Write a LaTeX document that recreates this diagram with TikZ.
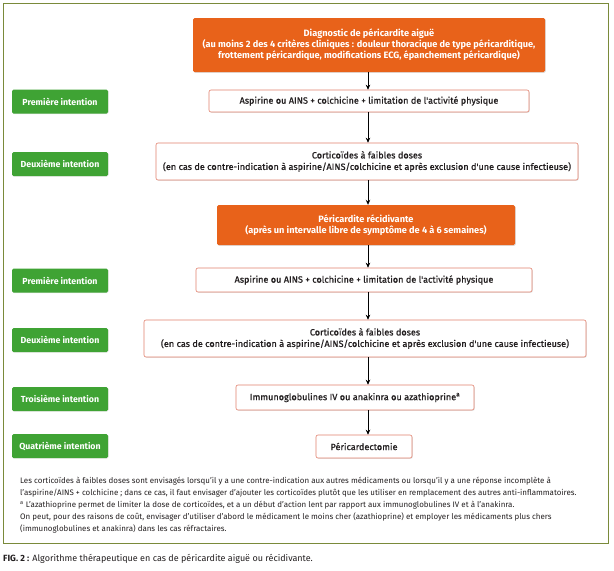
\documentclass[tikz,border=0pt]{standalone}
\usepackage{fontspec}
\setmainfont{Fira Sans}
\newfontfamily\medfont{Fira Sans}[FakeBold=0.8]
\usetikzlibrary{arrows.meta,shadows}
\definecolor{orng}{RGB}{232,98,26}
\definecolor{grn}{RGB}{63,163,52}
\definecolor{frm}{RGB}{122,138,58}
\definecolor{wbd}{RGB}{226,128,108}
\definecolor{txt}{RGB}{35,31,32}
\tikzset{
  obox/.style={fill=orng, draw=none, rounded corners=1.5pt, text=white, font=\bfseries\fontsize{9.2}{11}\selectfont, align=center, inner sep=0pt, drop shadow={shadow xshift=0.8pt, shadow yshift=-0.8pt, opacity=0.25}},
  wbox/.style={fill=white, draw=wbd, line width=0.6pt, rounded corners=2pt, text=txt, font=\medfont\fontsize{9.1}{11.5}\selectfont, align=center, inner sep=0pt, drop shadow={shadow xshift=0.8pt, shadow yshift=-0.8pt, opacity=0.2}},
  gbox/.style={fill=grn, draw=none, rounded corners=1.5pt, text=white, font=\bfseries\fontsize{8.8}{10}\selectfont, minimum width=96pt, minimum height=24pt, inner sep=0pt, drop shadow={shadow xshift=0.6pt, shadow yshift=-0.6pt, opacity=0.2}},
  arr/.style={draw=black, line width=0.7pt, -{Stealth[length=5pt,width=4.5pt]}},
  note/.style={text=txt, font=\fontsize{7.95}{12}\selectfont, align=left, inner sep=0pt, anchor=north west}
}
\begin{document}
\begin{tikzpicture}[x=1pt,y=-1pt]
\useasboundingbox (0,0) rectangle (614,571);
\fill[white] (0,0) rectangle (614,571);
\node[draw=frm, line width=0.8pt, minimum width=605pt, minimum height=540pt, inner sep=0pt] (frame) at (305.5,273) {};

\coordinate (xa) at (368,0);

\node[obox, minimum width=352pt, minimum height=54pt] (o1) at (369,45)
  {Diagnostic de péricardite aiguë\\(au moins 2 des 4 critères cliniques : douleur thoracique de type péricarditique,\\frottement péricardique, modifications ECG, épanchement péricardique)};

\node[wbox, minimum width=320pt, minimum height=22pt] (w1) at (369,101)
  {Aspirine ou AINS + colchicine + limitation de l'activité physique};
\node[gbox] (g1) at (60,101.5) {Première intention};

\node[wbox, minimum width=422pt, minimum height=37pt] (w2) at (367,161.5)
  {Corticoïdes à faibles doses\\(en cas de contre-indication à aspirine/AINS/colchicine et après exclusion d'une cause infectieuse)};
\node[gbox] (g2) at (60,164) {Deuxième intention};

\node[obox, minimum width=298pt, minimum height=40pt] (o2) at (366,225)
  {Péricardite récidivante\\(après un intervalle libre de symptôme de 4 à 6 semaines)};

\node[wbox, minimum width=336pt, minimum height=24pt] (w3) at (364,280)
  {Aspirine ou AINS + colchicine + limitation de l'activité physique};
\node[gbox] (g3) at (60,280.5) {Première intention};

\node[wbox, minimum width=442pt, minimum height=37pt] (w4) at (365,338.5)
  {Corticoïdes à faibles doses\\(en cas de contre-indication à aspirine/AINS/colchicine et après exclusion d'une cause infectieuse)};
\node[gbox] (g4) at (60,340) {Deuxième intention};

\node[wbox, minimum width=238pt, minimum height=25pt] (w5) at (355,397.5)
  {Immunoglobulines IV ou anakinra ou azathioprine\textsuperscript{a}};
\node[gbox] (g5) at (60,399) {Troisième intention};

\node[wbox, minimum width=96pt, minimum height=23pt] (w6) at (364,446.5)
  {Péricardectomie};
\node[gbox] (g6) at (60,446) {Quatrième intention};

\draw[arr] (o1.south -| xa) -- (w1.north -| xa);
\draw[arr] (w1.south -| xa) -- (w2.north -| xa);
\draw[arr] (w2.south -| xa) -- (o2.north -| xa);
\draw[arr] (o2.south -| xa) -- (w3.north -| xa);
\draw[arr] (w3.south -| xa) -- (w4.north -| xa);
\draw[arr] (w4.south -| xa) -- (w5.north -| xa);
\draw[arr] (w5.south -| xa) -- (w6.north -| xa);

\node[note] (fn) at (20,477)
  {Les corticoïdes à faibles doses sont envisagés lorsqu'il y a une contre-indication aux autres médicaments ou lorsqu'il y a une réponse incomplète à\\
   l'aspirine/AINS + colchicine ; dans ce cas, il faut envisager d'ajouter les corticoïdes plutôt que les utiliser en remplacement des autres anti-inflammatoires.\\
   \textsuperscript{a} L'azathioprine permet de limiter la dose de corticoïdes, et a un début d'action lent par rapport aux immunoglobulines IV et à l'anakinra.\\
   On peut, pour des raisons de coût, envisager d'utiliser d'abord le médicament le moins cher (azathioprine) et employer les médicaments plus chers\\
   (immunoglobulines et anakinra) dans les cas réfractaires.};

\node[text=txt, font=\fontsize{9}{10}\selectfont, anchor=west, inner sep=0pt] (cap) at (3,559)
  {\textbf{FIG. 2 :} Algorithme thérapeutique en cas de péricardite aiguë ou récidivante.};
\end{tikzpicture}
\end{document}
